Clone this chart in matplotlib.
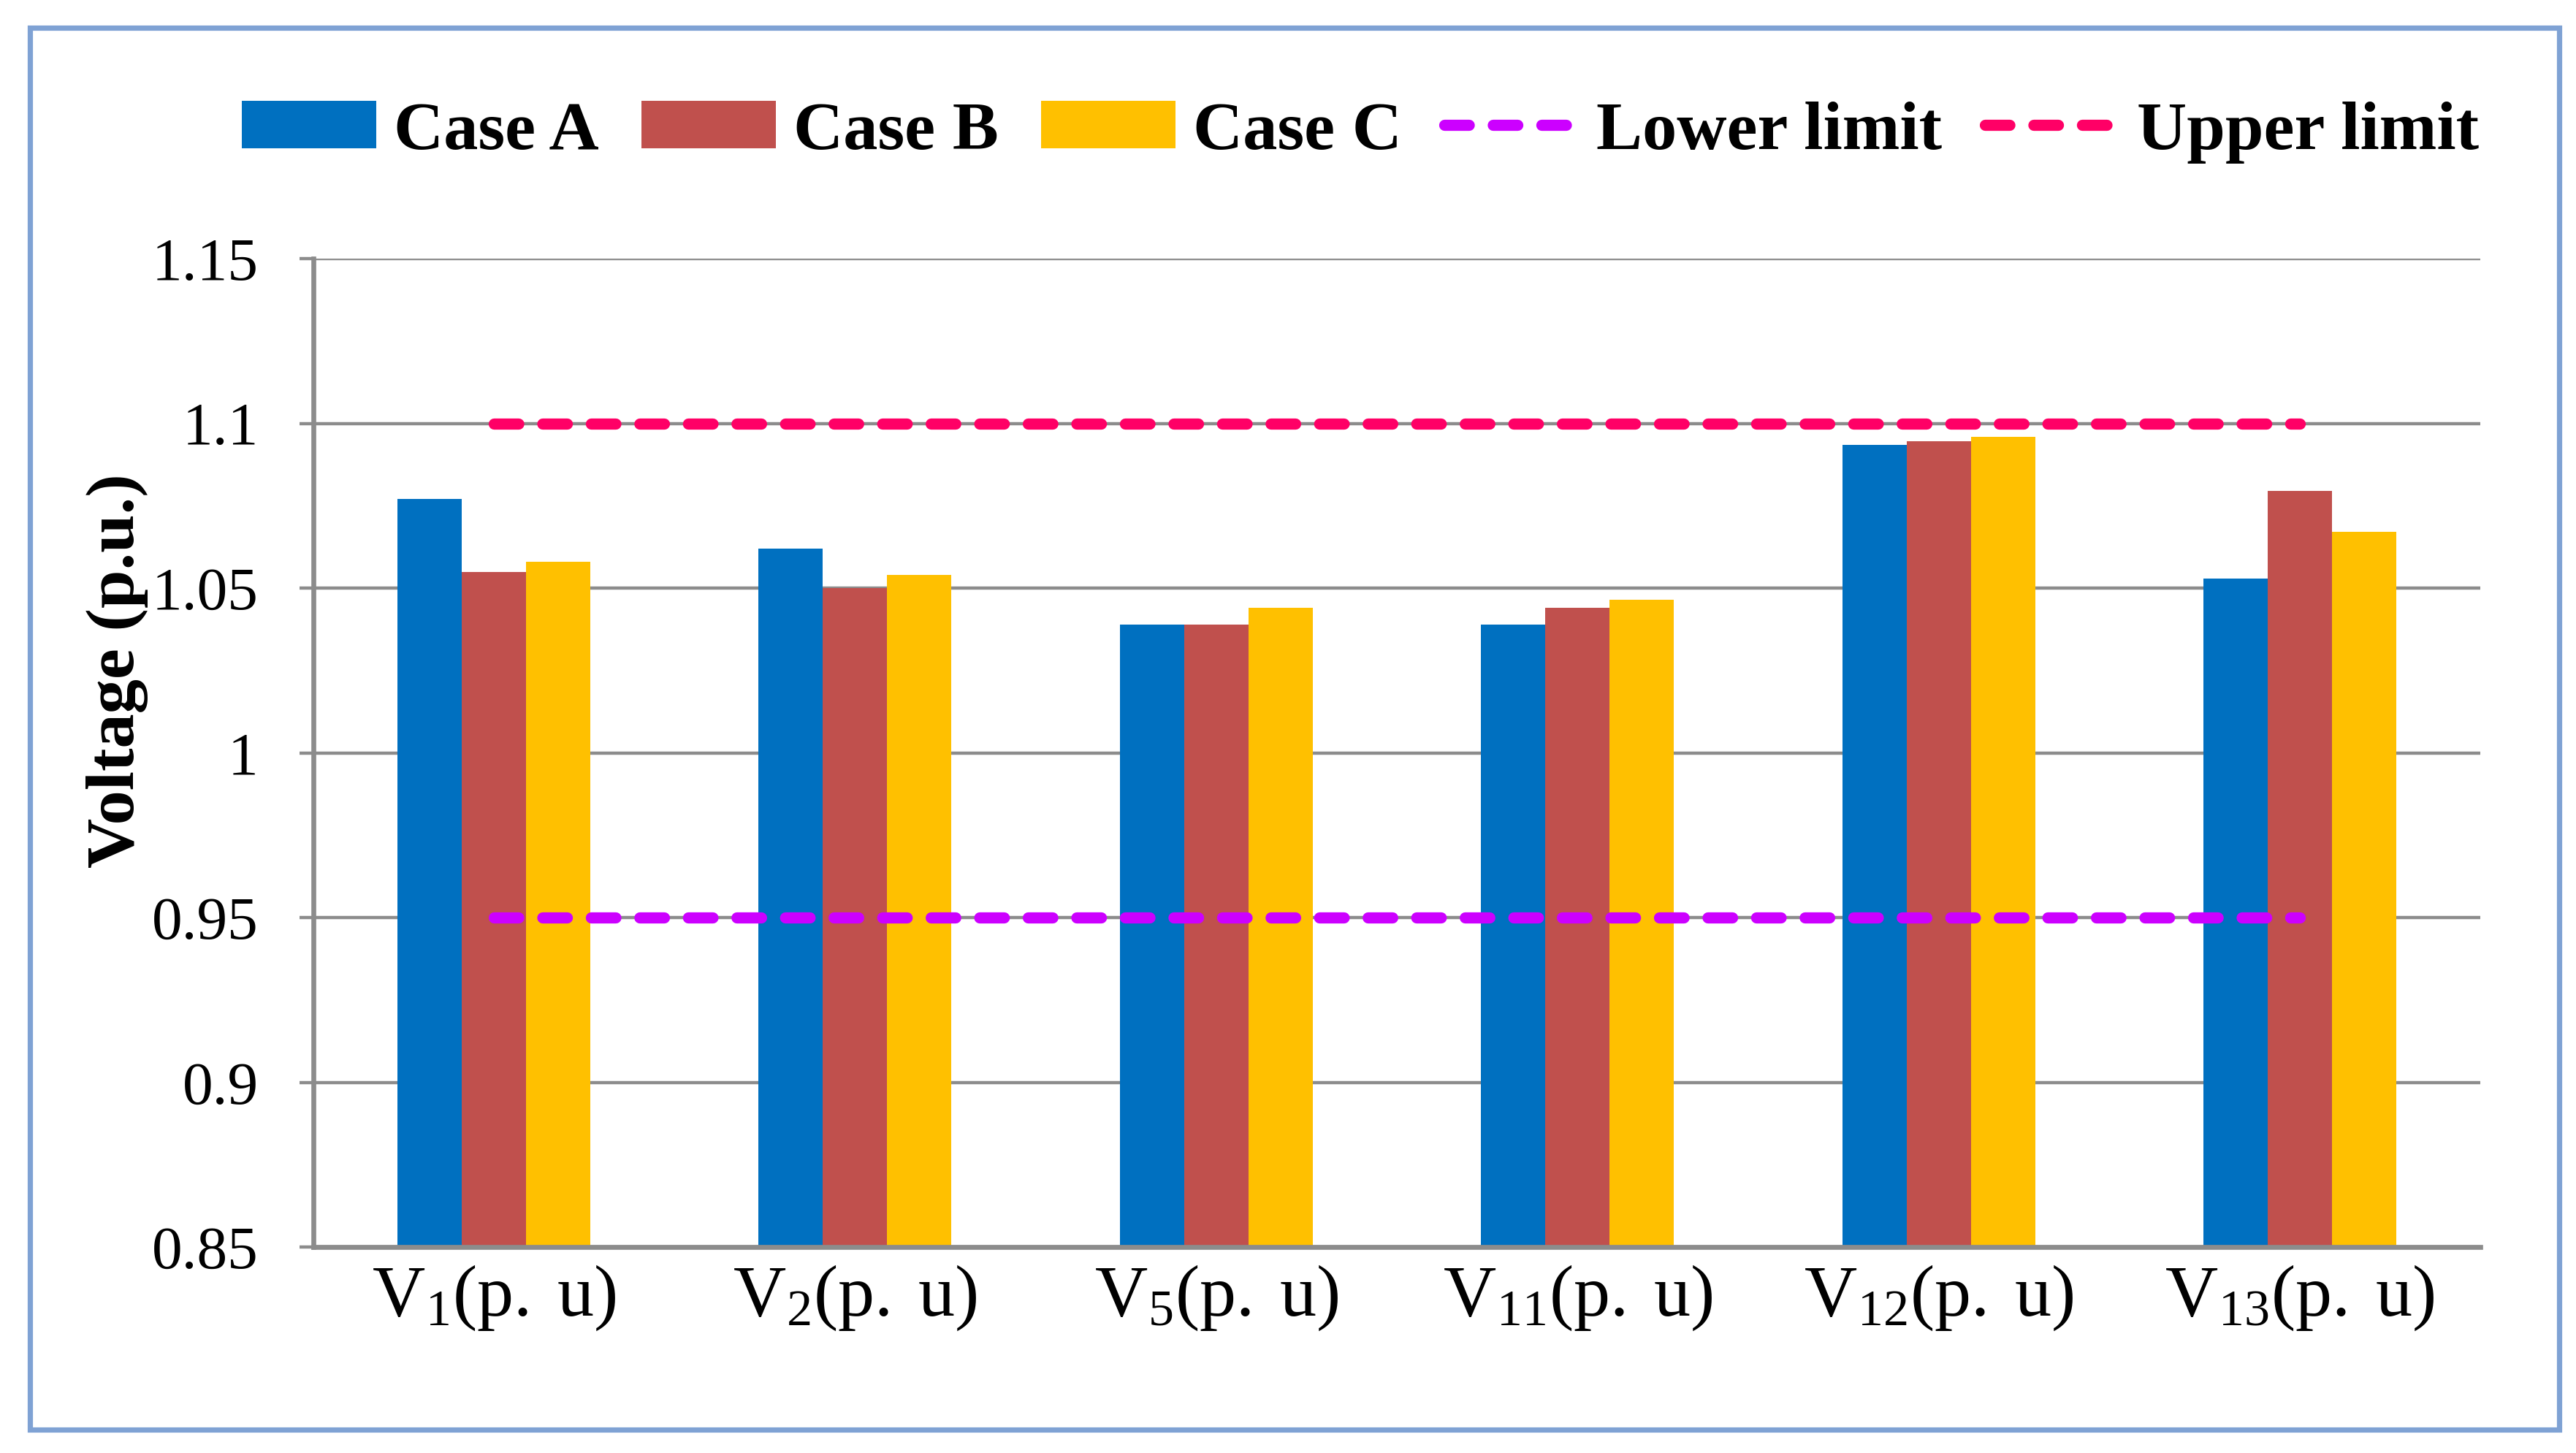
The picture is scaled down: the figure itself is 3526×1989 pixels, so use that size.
import numpy as np
import matplotlib.pyplot as plt
from matplotlib.patches import Rectangle

# Bus voltages (p.u.)
buses = ['1', '2', '5', '11', '12', '13']
case_a = [1.077, 1.062, 1.039, 1.039, 1.0935, 1.053]
case_b = [1.055, 1.050, 1.039, 1.044, 1.0945, 1.0795]
case_c = [1.058, 1.054, 1.044, 1.0465, 1.096, 1.067]
lower_limit = [0.95, 0.95, 0.95, 0.95, 0.95, 0.95]
upper_limit = [1.10, 1.10, 1.10, 1.10, 1.10, 1.10]
y_ticks = [0.85, 0.9, 0.95, 1.0, 1.05, 1.1, 1.15]
y_tick_labels = ['0.85', '0.9', '0.95', '1', '1.05', '1.1', '1.15']

plt.rcParams['font.family'] = ['Liberation Serif', 'DejaVu Serif']
plt.rcParams['mathtext.fontset'] = 'dejavuserif'


def main():
    fig = plt.figure(figsize=(17.63, 9.945), dpi=200)
    ax = fig.add_axes([0.1216, 0.1417, 0.8413, 0.6803])

    x = np.arange(len(buses))
    w = 0.178
    ba = ax.bar(x - w, case_a, w, color='#0070C0', label='Case A', zorder=2)
    bb = ax.bar(x, case_b, w, color='#C0504D', label='Case B', zorder=2)
    bc = ax.bar(x + w, case_c, w, color='#FFC000', label='Case C', zorder=2)

    dash = dict(linestyle=(0, (2.2, 2.15)), linewidth=5.5, dash_capstyle='round', zorder=3)
    lo, = ax.plot(x, lower_limit, color='#CC00FF', label='Lower limit', **dash)
    up, = ax.plot(x, upper_limit, color='#FF0066', label='Upper limit', **dash)

    ax.set_xlim(-0.5, len(buses) - 0.5)
    ax.set_ylim(0.85, 1.15)
    ax.set_yticks(y_ticks)
    ax.set_yticklabels(y_tick_labels, fontsize=30)
    ax.set_xticks(x)
    ax.set_xticklabels([r'$\mathregular{V_{%s}(p.\,u)}$' % b for b in buses], fontsize=36)

    ax.grid(axis='y', color='#8c8c8c', linewidth=1.6, zorder=0)
    ax.set_axisbelow(True)
    for s in ['top', 'right']:
        ax.spines[s].set_visible(False)
    for s in ['left', 'bottom']:
        ax.spines[s].set_color('#8c8c8c')
        ax.spines[s].set_linewidth(2.4)
    ax.tick_params(axis='y', length=7, width=1.6, color='#8c8c8c', pad=20)
    ax.tick_params(axis='x', length=0, pad=8)

    ax.set_ylabel('Voltage (p.u.)', fontsize=34, fontweight='bold')
    ax.yaxis.set_label_coords(-0.076, 0.583)

    ax.legend([ba, bb, bc, lo, up], ['Case A', 'Case B', 'Case C', 'Lower limit', 'Upper limit'],
              loc='center', bbox_to_anchor=(0.528, 0.909), bbox_transform=fig.transFigure,
              ncol=5, frameon=False, handlelength=1.95, handleheight=0.68,
              handletextpad=0.25, columnspacing=0.62,
              prop={'family': 'Liberation Serif', 'weight': 'bold', 'size': 34})

    # outer chart frame
    fig.patches.append(Rectangle((0.0115, 0.0159), 0.9821, 0.9648, transform=fig.transFigure,
                                 fill=False, edgecolor='#7fa2d4', linewidth=2.6))

    fig.savefig('out.png', dpi=200, facecolor='white')


if __name__ == '__main__':
    main()
